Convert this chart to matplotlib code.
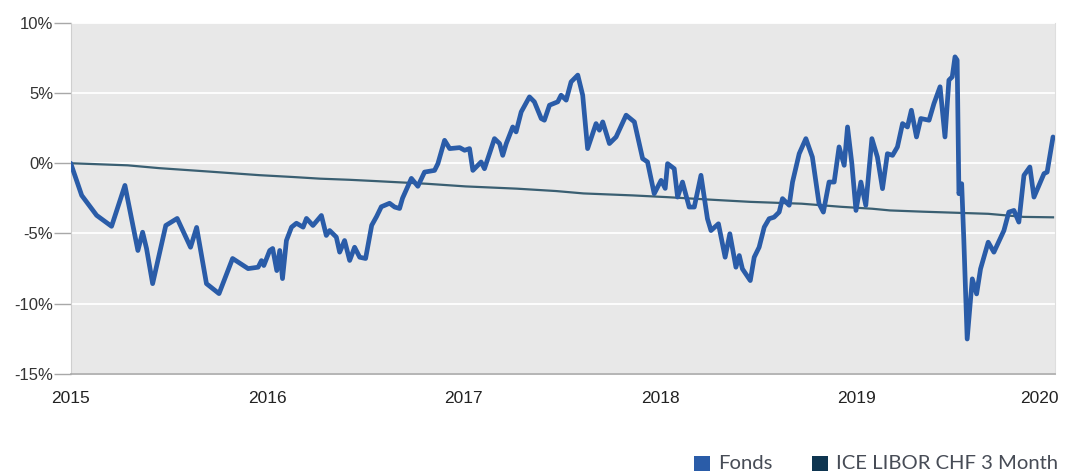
import matplotlib
matplotlib.use("Agg")
import matplotlib.pyplot as plt
import matplotlib.transforms as mtransforms
from matplotlib.patches import Rectangle

# ---- data (fractional years, % performance) ----
fonds_t = [
    2015.000, 2015.056, 2015.132, 2015.208, 2015.276, 2015.342, 2015.366, 2015.386, 2015.417, 2015.484,
    2015.542, 2015.610, 2015.641, 2015.691, 2015.755, 2015.824, 2015.903, 2015.954, 2015.971, 2015.983,
    2016.013, 2016.028, 2016.049, 2016.064, 2016.078, 2016.098, 2016.124, 2016.149, 2016.183, 2016.200,
    2016.233, 2016.276, 2016.301, 2016.318, 2016.352, 2016.369, 2016.394, 2016.420, 2016.445, 2016.471,
    2016.501, 2016.532, 2016.557, 2016.581, 2016.623, 2016.649, 2016.674, 2016.689, 2016.734, 2016.767,
    2016.801, 2016.852, 2016.869, 2016.903, 2016.929, 2016.980, 2017.005, 2017.030, 2017.047, 2017.089,
    2017.106, 2017.157, 2017.183, 2017.199, 2017.217, 2017.250, 2017.267, 2017.293, 2017.335, 2017.360,
    2017.395, 2017.411, 2017.437, 2017.479, 2017.496, 2017.522, 2017.547, 2017.581, 2017.606, 2017.631,
    2017.674, 2017.691, 2017.708, 2017.742, 2017.776, 2017.827, 2017.869, 2017.911, 2017.936, 2017.970,
    2018.005, 2018.026, 2018.038, 2018.072, 2018.089, 2018.114, 2018.148, 2018.174, 2018.208, 2018.241,
    2018.259, 2018.297, 2018.331, 2018.355, 2018.386, 2018.403, 2018.419, 2018.459, 2018.479, 2018.504,
    2018.530, 2018.555, 2018.580, 2018.606, 2018.623, 2018.657, 2018.674, 2018.708, 2018.742, 2018.775,
    2018.809, 2018.831, 2018.860, 2018.886, 2018.911, 2018.937, 2018.954, 2018.976, 2018.997, 2019.022,
    2019.047, 2019.078, 2019.106, 2019.132, 2019.157, 2019.183, 2019.208, 2019.234, 2019.259, 2019.279,
    2019.305, 2019.327, 2019.369, 2019.394, 2019.425, 2019.450, 2019.470, 2019.487, 2019.501, 2019.512,
    2019.521, 2019.535, 2019.546, 2019.563, 2019.589, 2019.611, 2019.631, 2019.670, 2019.699, 2019.750,
    2019.775, 2019.801, 2019.826, 2019.852, 2019.882, 2019.903, 2019.954, 2019.970, 2020.000,
]
fonds_v = [
    0.00, -2.29, -3.71, -4.49, -1.58, -6.21, -4.91, -6.07, -8.57, -4.43,
    -3.93, -5.98, -4.57, -8.57, -9.28, -6.78, -7.50, -7.40, -6.93, -7.28,
    -6.21, -6.07, -7.64, -6.21, -8.21, -5.50, -4.55, -4.27, -4.55, -3.93,
    -4.43, -3.72, -5.14, -4.79, -5.26, -6.33, -5.50, -6.92, -5.98, -6.69,
    -6.78, -4.42, -3.79, -3.10, -2.85, -3.12, -3.22, -2.49, -1.08, -1.64,
    -0.63, -0.51, -0.03, 1.63, 1.04, 1.11, 0.92, 1.04, -0.51, 0.09,
    -0.39, 1.75, 1.40, 0.56, 1.40, 2.58, 2.23, 3.65, 4.72, 4.37,
    3.18, 3.06, 4.13, 4.37, 4.84, 4.49, 5.79, 6.27, 4.84, 1.04,
    2.82, 2.35, 2.94, 1.40, 1.87, 3.42, 2.94, 0.33, 0.09, -2.17,
    -1.22, -1.79, -0.03, -0.39, -2.41, -1.34, -3.12, -3.12, -0.86, -3.95,
    -4.79, -4.31, -6.69, -5.02, -7.40, -6.57, -7.52, -8.35, -6.69, -5.98,
    -4.55, -3.95, -3.84, -3.48, -2.52, -2.99, -1.34, 0.68, 1.75, 0.44,
    -2.88, -3.48, -1.34, -1.34, 1.16, -0.15, 2.58, -0.03, -3.36, -1.34,
    -3.00, 1.75, 0.44, -1.81, 0.68, 0.56, 1.16, 2.82, 2.58, 3.77,
    1.87, 3.18, 3.06, 4.25, 5.44, 1.87, 5.91, 6.15, 7.57, 7.34,
    -2.17, -1.46, -5.50, -12.51, -8.23, -9.30, -7.52, -5.62, -6.33, -4.79,
    -3.48, -3.36, -4.19, -0.86, -0.27, -2.41, -0.74, -0.63, 1.87,
]

bench_t = [
    2015.00, 2015.29, 2015.45, 2015.71, 2015.96, 2016.13, 2016.27, 2016.42, 2016.55, 2016.81,
    2017.01, 2017.27, 2017.47, 2017.61, 2017.86, 2018.03, 2018.29, 2018.46, 2018.72, 2018.92,
    2019.08, 2019.17, 2019.34, 2019.67, 2019.85, 2020.00,
]
bench_v = [
    0.00, -0.15, -0.35, -0.60, -0.85, -0.98, -1.10, -1.18, -1.27, -1.46,
    -1.65, -1.81, -1.98, -2.15, -2.29, -2.41, -2.62, -2.75, -2.88, -3.10,
    -3.24, -3.36, -3.45, -3.60, -3.82, -3.85,
]

year_ticks = [2015, 2016, 2017, 2018, 2019, 2020]
year_labels = ["2015", "2016", "2017", "2018", "2019", "2020"]
y_ticks = [-15, -10, -5, 0, 5, 10]
y_labels = ["-15%", "-10%", "-5%", "0%", "5%", "10%"]
series_names = ["Fonds", "ICE LIBOR CHF 3 Month"]

fonds_color = "#2a5ca8"
bench_line_color = "#3a5f72"
bench_legend_color = "#0e3550"

W, H = 1080, 475
fig = plt.figure(figsize=(W / 100, H / 100), dpi=100)
fig.patch.set_facecolor("white")

ax = fig.add_axes([70.7 / W, 1 - 374 / H, (1055 - 70.7) / W, (374 - 22.7) / H])
ax.set_facecolor("#e8e8e8")

ax.plot(bench_t, bench_v, color=bench_line_color, lw=1.6, solid_joinstyle="round", zorder=3)
ax.plot(fonds_t, fonds_v, color=fonds_color, lw=3.4, solid_joinstyle="round",
        solid_capstyle="round", zorder=4)

ax.set_xlim(2015, 2020.01)
ax.set_ylim(-15, 10)

ax.set_yticks(y_ticks)
ax.set_yticklabels(y_labels)
ax.set_xticks(year_ticks)
ax.set_xticklabels(year_labels)

ax.grid(axis="y", color="white", lw=1.3, zorder=1)
ax.set_axisbelow(True)

ax.tick_params(axis="y", length=12.5, width=1, color="#a8a8a8", pad=0,
               labelsize=12, labelcolor="#333333")
ax.tick_params(axis="x", length=0, pad=12, labelsize=12.5, labelcolor="#222222")
for lab in ax.get_yticklabels():
    lab.set_fontfamily("Liberation Sans")
for lab in ax.get_xticklabels():
    lab.set_fontfamily("Liberation Sans")

# last x label shifted to stay in frame
last = ax.get_xticklabels()[-1]
last.set_horizontalalignment("right")
last.set_transform(last.get_transform() + mtransforms.ScaledTranslation(6 / 100, 0, fig.dpi_scale_trans))

ax.spines["top"].set_visible(False)
ax.spines["left"].set_color("#cfcfcf")
ax.spines["right"].set_color("#dedede")
ax.spines["bottom"].set_color("#a8a8a8")
ax.spines["bottom"].set_linewidth(1.2)

# legend (manual)
def legend_item(x_px, color, text):
    fig.patches.append(Rectangle((x_px / W, 1 - 471 / H), 15.5 / W, 15.5 / H,
                                 transform=fig.transFigure, facecolor=color,
                                 edgecolor="none"))
    fig.text((x_px + 24.5) / W, 1 - 463.5 / H, text, fontsize=14.6, family="Lato",
             color="#474c56", va="center", ha="left")

legend_item(694, fonds_color, series_names[0])
legend_item(812, bench_legend_color, series_names[1])

fig.savefig("out.png", dpi=100, facecolor="white")
